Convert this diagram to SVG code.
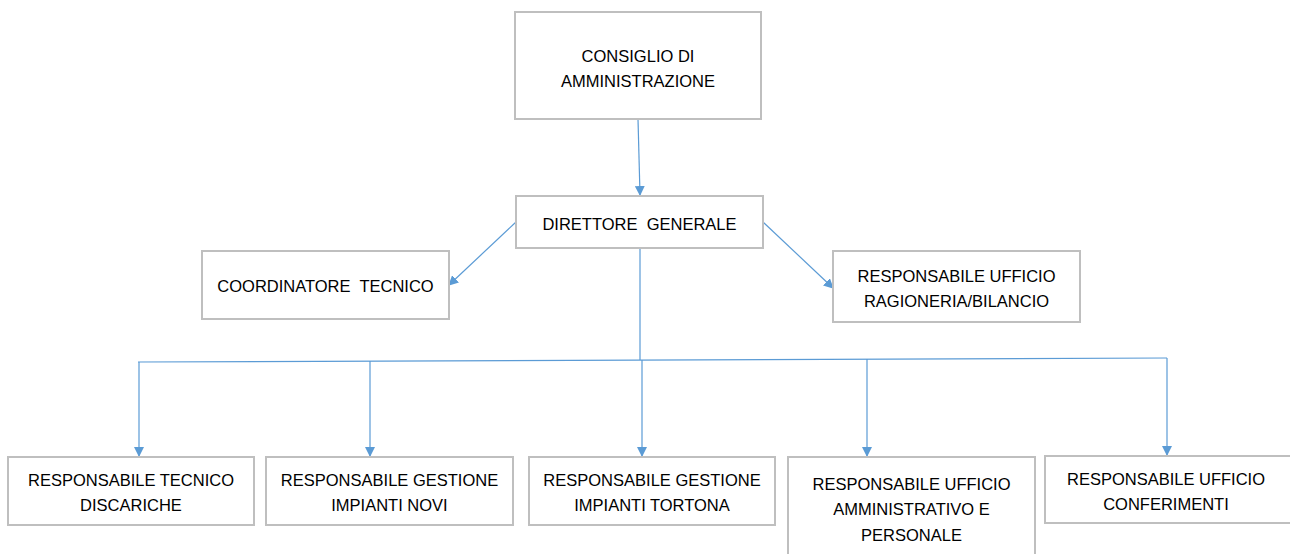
<svg xmlns="http://www.w3.org/2000/svg" width="1290" height="554" viewBox="0 0 1290 554">
<defs>
<marker id="arr" markerWidth="10" markerHeight="10" refX="9" refY="5" orient="auto" markerUnits="userSpaceOnUse">
<path d="M0,0 L10,5 L0,10 Z" fill="#5B9BD5"/>
</marker>
<style>
.box{fill:#fff;stroke:#BFBFBF;stroke-width:2}
.t{font-family:"Liberation Sans",Arial,sans-serif;font-size:16.5px;fill:#000;text-anchor:middle}
.c{stroke:#5B9BD5;stroke-width:1.2;fill:none}
</style>
</defs>
<rect width="1290" height="554" fill="#fff"/>
<g id="connectors">
<line class="c" x1="638" y1="119" x2="640" y2="195" marker-end="url(#arr)"/>
<line class="c" x1="516" y1="222" x2="449" y2="285" marker-end="url(#arr)"/>
<line class="c" x1="763" y1="222" x2="833" y2="288" marker-end="url(#arr)"/>
<line class="c" x1="640" y1="248" x2="640" y2="360"/>
<line class="c" x1="138" y1="362" x2="1167" y2="358"/>
<line class="c" x1="139" y1="362" x2="139" y2="456" marker-end="url(#arr)"/>
<line class="c" x1="370" y1="361" x2="370" y2="456" marker-end="url(#arr)"/>
<line class="c" x1="642" y1="360" x2="642" y2="456" marker-end="url(#arr)"/>
<line class="c" x1="867" y1="359" x2="867" y2="456" marker-end="url(#arr)"/>
<line class="c" x1="1167" y1="358" x2="1167" y2="455" marker-end="url(#arr)"/>
</g>
<g id="n-consiglio">
<rect class="box" x="515" y="12" width="246" height="107"/>
<text class="t" x="638" y="62">CONSIGLIO DI</text>
<text class="t" x="638" y="87">AMMINISTRAZIONE</text>
</g>
<g id="n-direttore">
<rect class="box" x="516" y="196" width="247" height="52"/>
<text class="t" x="639.5" y="230" xml:space="preserve">DIRETTORE  GENERALE</text>
</g>
<g id="n-coordinatore">
<rect class="box" x="202" y="251" width="247" height="68"/>
<text class="t" x="325.5" y="292" xml:space="preserve">COORDINATORE  TECNICO</text>
</g>
<g id="n-ragioneria">
<rect class="box" x="833" y="251" width="247" height="71"/>
<text class="t" x="956.5" y="282">RESPONSABILE UFFICIO</text>
<text class="t" x="956.5" y="307">RAGIONERIA/BILANCIO</text>
</g>
<g id="n-discariche">
<rect class="box" x="8" y="457" width="246" height="68"/>
<text class="t" x="131" y="486">RESPONSABILE TECNICO</text>
<text class="t" x="131" y="511">DISCARICHE</text>
</g>
<g id="n-novi">
<rect class="box" x="266" y="457" width="247" height="68"/>
<text class="t" x="389.5" y="486">RESPONSABILE GESTIONE</text>
<text class="t" x="389.5" y="511">IMPIANTI NOVI</text>
</g>
<g id="n-tortona">
<rect class="box" x="529" y="457" width="246" height="68"/>
<text class="t" x="652" y="486">RESPONSABILE GESTIONE</text>
<text class="t" x="652" y="511">IMPIANTI TORTONA</text>
</g>
<g id="n-amministrativo">
<rect class="box" x="788" y="457" width="247" height="110"/>
<text class="t" x="911.5" y="490">RESPONSABILE UFFICIO</text>
<text class="t" x="911.5" y="515">AMMINISTRATIVO E</text>
<text class="t" x="911.5" y="541">PERSONALE</text>
</g>
<g id="n-conferimenti">
<rect class="box" x="1045" y="456" width="247" height="67"/>
<text class="t" x="1166" y="485">RESPONSABILE UFFICIO</text>
<text class="t" x="1166" y="510">CONFERIMENTI</text>
</g>
</svg>
